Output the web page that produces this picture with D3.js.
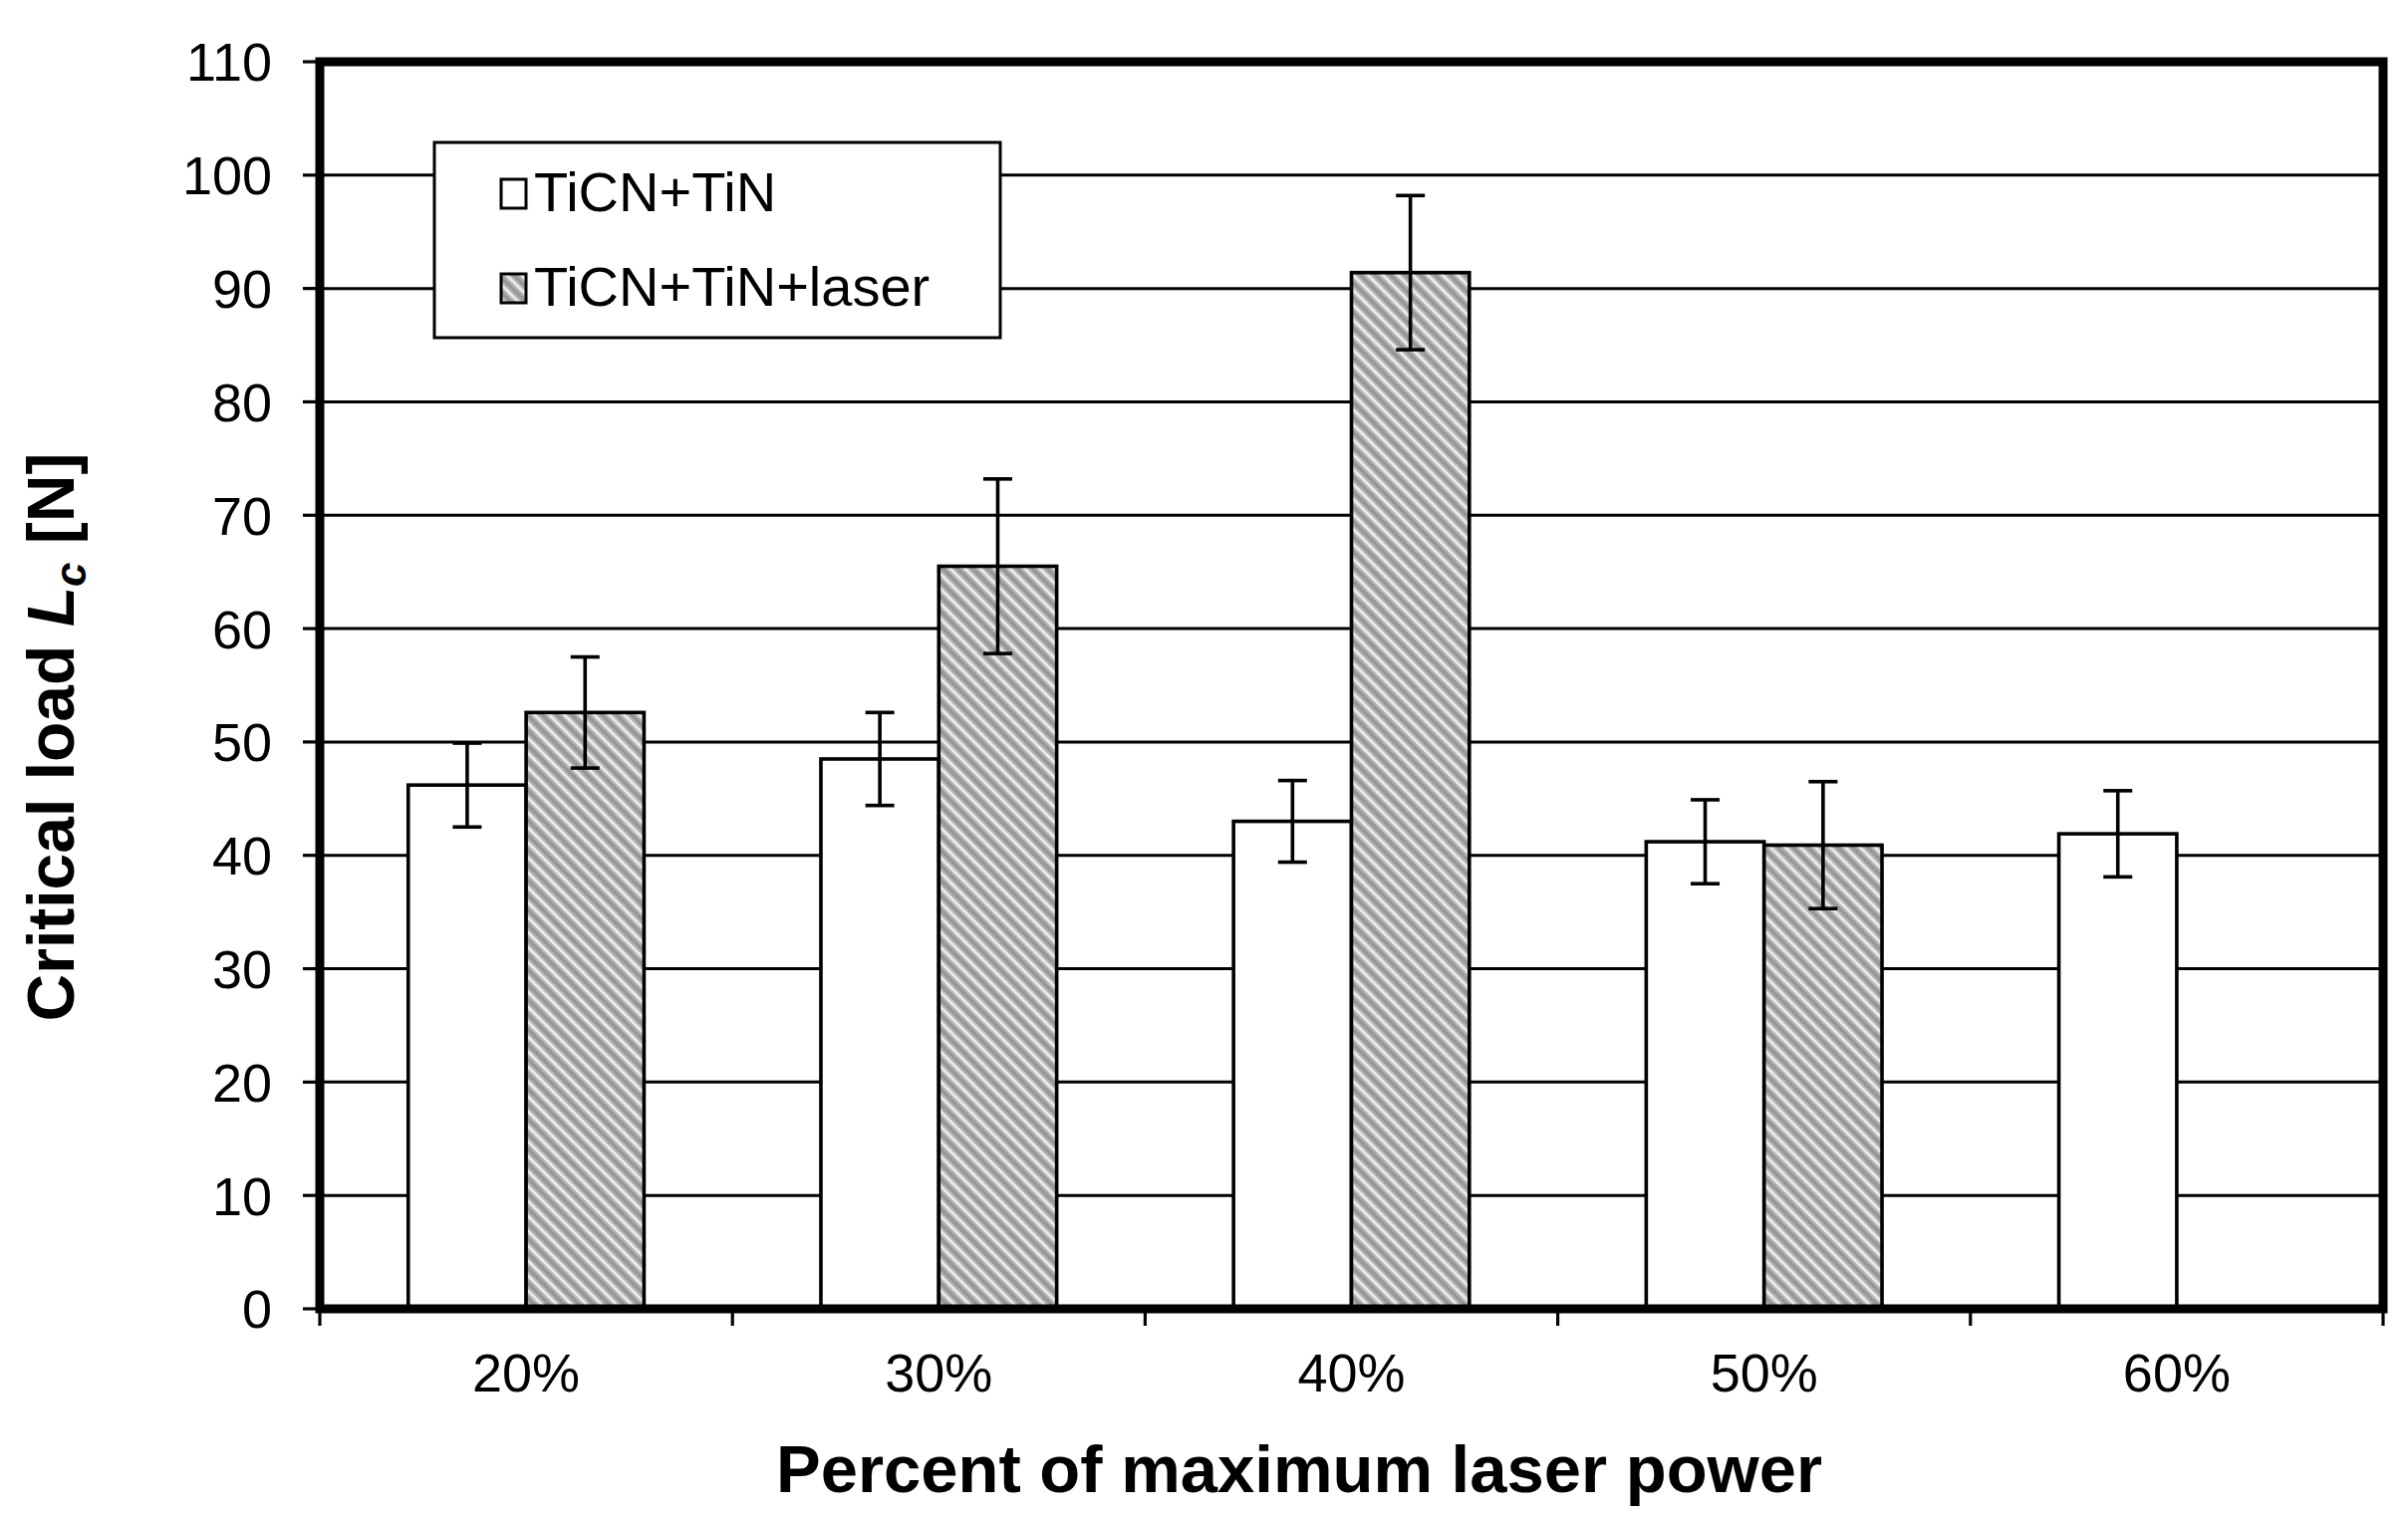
<!DOCTYPE html>
<html>
<head>
<meta charset="utf-8">
<script src="https://cdn.jsdelivr.net/npm/d3@7"></script>
<style>
  html, body { margin: 0; padding: 0; background: #fff; }
  svg { display: block; font-family: "Liberation Sans", Arial, sans-serif; }
</style>
</head>
<body>
<svg id="chart" width="2417" height="1522"></svg>
<script>
// ---- data ----
const categories = ["20%", "30%", "40%", "50%", "60%"];
const seriesNames = ["TiCN+TiN", "TiCN+TiN+laser"];
const valuesPlain = [46.2, 48.5, 43.0, 41.2, 41.9];
const errorsPlain = [3.7, 4.1, 3.6, 3.7, 3.8];
const valuesLaser = [52.6, 65.5, 91.4, 40.9, null];
const errorsLaser = [4.9, 7.7, 6.8, 5.6, null];
const yTicks = [0, 10, 20, 30, 40, 50, 60, 70, 80, 90, 100, 110];

// ---- layout ----
const L = 321, R = 2392, T = 62, B = 1314;
const svg = d3.select("#chart");

const defs = svg.append("defs");
const grad = defs.append("linearGradient").attr("id", "stripeGrad")
  .attr("x1", "0").attr("y1", "0").attr("x2", "1").attr("y2", "0");
[[0, "#8e8e8e"], [0.28, "#b4b4b4"], [0.5, "#f8f8f8"], [0.72, "#b4b4b4"], [1, "#8e8e8e"]]
  .forEach(([o, c]) => grad.append("stop").attr("offset", o).attr("stop-color", c));
const pat = defs.append("pattern").attr("id", "hatch")
  .attr("patternUnits", "userSpaceOnUse")
  .attr("width", 10.6).attr("height", 20)
  .attr("patternTransform", "rotate(-45)");
pat.append("rect").attr("width", 10.6).attr("height", 20).attr("fill", "url(#stripeGrad)");

const x0 = d3.scaleBand().domain(categories).range([L, R]).padding(0);
const gap = x0.bandwidth() * 0.2143;
const x1 = d3.scaleBand().domain(seriesNames).range([gap, x0.bandwidth() - gap]).padding(0);
const y = d3.scaleLinear().domain([0, 110]).range([B, T]);

// gridlines
svg.append("g").selectAll("line").data(yTicks.filter(t => t > 0 && t < 110)).join("line")
  .attr("x1", L).attr("x2", R).attr("y1", d => y(d)).attr("y2", d => y(d))
  .attr("stroke", "#000").attr("stroke-width", 3);

// bars
const rows = categories.map((c, i) => ({
  cat: c,
  bars: [
    { s: seriesNames[0], v: valuesPlain[i], e: errorsPlain[i] },
    { s: seriesNames[1], v: valuesLaser[i], e: errorsLaser[i] }
  ].filter(b => b.v != null)
}));

const groups = svg.append("g").selectAll("g").data(rows).join("g")
  .attr("transform", d => `translate(${x0(d.cat)},0)`);

groups.selectAll("rect").data(d => d.bars).join("rect")
  .attr("x", d => x1(d.s)).attr("width", x1.bandwidth())
  .attr("y", d => y(d.v)).attr("height", d => y(0) - y(d.v))
  .attr("fill", d => d.s === seriesNames[0] ? "#fff" : "url(#hatch)")
  .attr("stroke", "#000").attr("stroke-width", 3.6);

// error bars
const capW = 29;
const cx = d => x1(d.s) + x1.bandwidth() / 2;
const eb = groups.selectAll("g.err").data(d => d.bars).join("g").attr("class", "err");
eb.append("line")
  .attr("x1", cx).attr("x2", cx)
  .attr("y1", d => y(d.v + d.e)).attr("y2", d => y(d.v - d.e))
  .attr("stroke", "#000").attr("stroke-width", 3.6);
eb.append("line")
  .attr("x1", d => cx(d) - capW / 2).attr("x2", d => cx(d) + capW / 2)
  .attr("y1", d => y(d.v + d.e)).attr("y2", d => y(d.v + d.e))
  .attr("stroke", "#000").attr("stroke-width", 3.6);
eb.append("line")
  .attr("x1", d => cx(d) - capW / 2).attr("x2", d => cx(d) + capW / 2)
  .attr("y1", d => y(d.v - d.e)).attr("y2", d => y(d.v - d.e))
  .attr("stroke", "#000").attr("stroke-width", 3.6);

// y axis ticks + labels
const yAx = svg.append("g");
yAx.selectAll("line").data(yTicks).join("line")
  .attr("x1", 304).attr("x2", L).attr("y1", d => y(d)).attr("y2", d => y(d))
  .attr("stroke", "#000").attr("stroke-width", 3.2);
yAx.selectAll("text").data(yTicks).join("text")
  .attr("x", 273).attr("y", d => y(d)).attr("dy", "0.36em")
  .attr("text-anchor", "end").attr("font-size", 54).text(d => d);

// x axis ticks + labels
const xBounds = categories.map(c => x0(c)).concat([R]);
svg.append("g").selectAll("line").data(xBounds).join("line")
  .attr("x1", d => d).attr("x2", d => d).attr("y1", B).attr("y2", 1331)
  .attr("stroke", "#000").attr("stroke-width", 3.2);
svg.append("g").selectAll("text").data(categories).join("text")
  .attr("x", d => x0(d) + x0.bandwidth() / 2).attr("y", 1397)
  .attr("text-anchor", "middle").attr("font-size", 54).text(d => d);

// plot frame
svg.append("rect").attr("x", L).attr("y", T).attr("width", R - L).attr("height", B - T)
  .attr("fill", "none").attr("stroke", "#000").attr("stroke-width", 9);

// legend
const lg = svg.append("g");
lg.append("rect").attr("x", 436).attr("y", 143).attr("width", 568).attr("height", 196)
  .attr("fill", "#fff").attr("stroke", "#000").attr("stroke-width", 3);
const legY = [194, 289];
seriesNames.forEach((s, i) => {
  lg.append("rect").attr("x", 503).attr("y", legY[i] - 14).attr("width", 25).attr("height", 29)
    .attr("fill", i === 0 ? "#fff" : "url(#hatch)").attr("stroke", "#000").attr("stroke-width", 3);
  lg.append("text").attr("x", 536).attr("y", legY[i] + 18)
    .attr("font-size", 56).text(s);
});

// axis titles
svg.append("text").attr("x", 1304).attr("y", 1498).attr("text-anchor", "middle")
  .attr("font-size", 67).attr("font-weight", "bold").text("Percent of maximum laser power");

const yt = svg.append("text").attr("transform", "translate(74,740) rotate(-90)")
  .attr("text-anchor", "middle").attr("font-size", 66).attr("font-weight", "bold");
yt.append("tspan").text("Critical load ");
yt.append("tspan").attr("font-style", "italic").text("L");
yt.append("tspan").attr("font-style", "italic").attr("font-size", 44).attr("dy", 12).text("c");
yt.append("tspan").attr("dy", -12).text(" [N]");
</script>
</body>
</html>
